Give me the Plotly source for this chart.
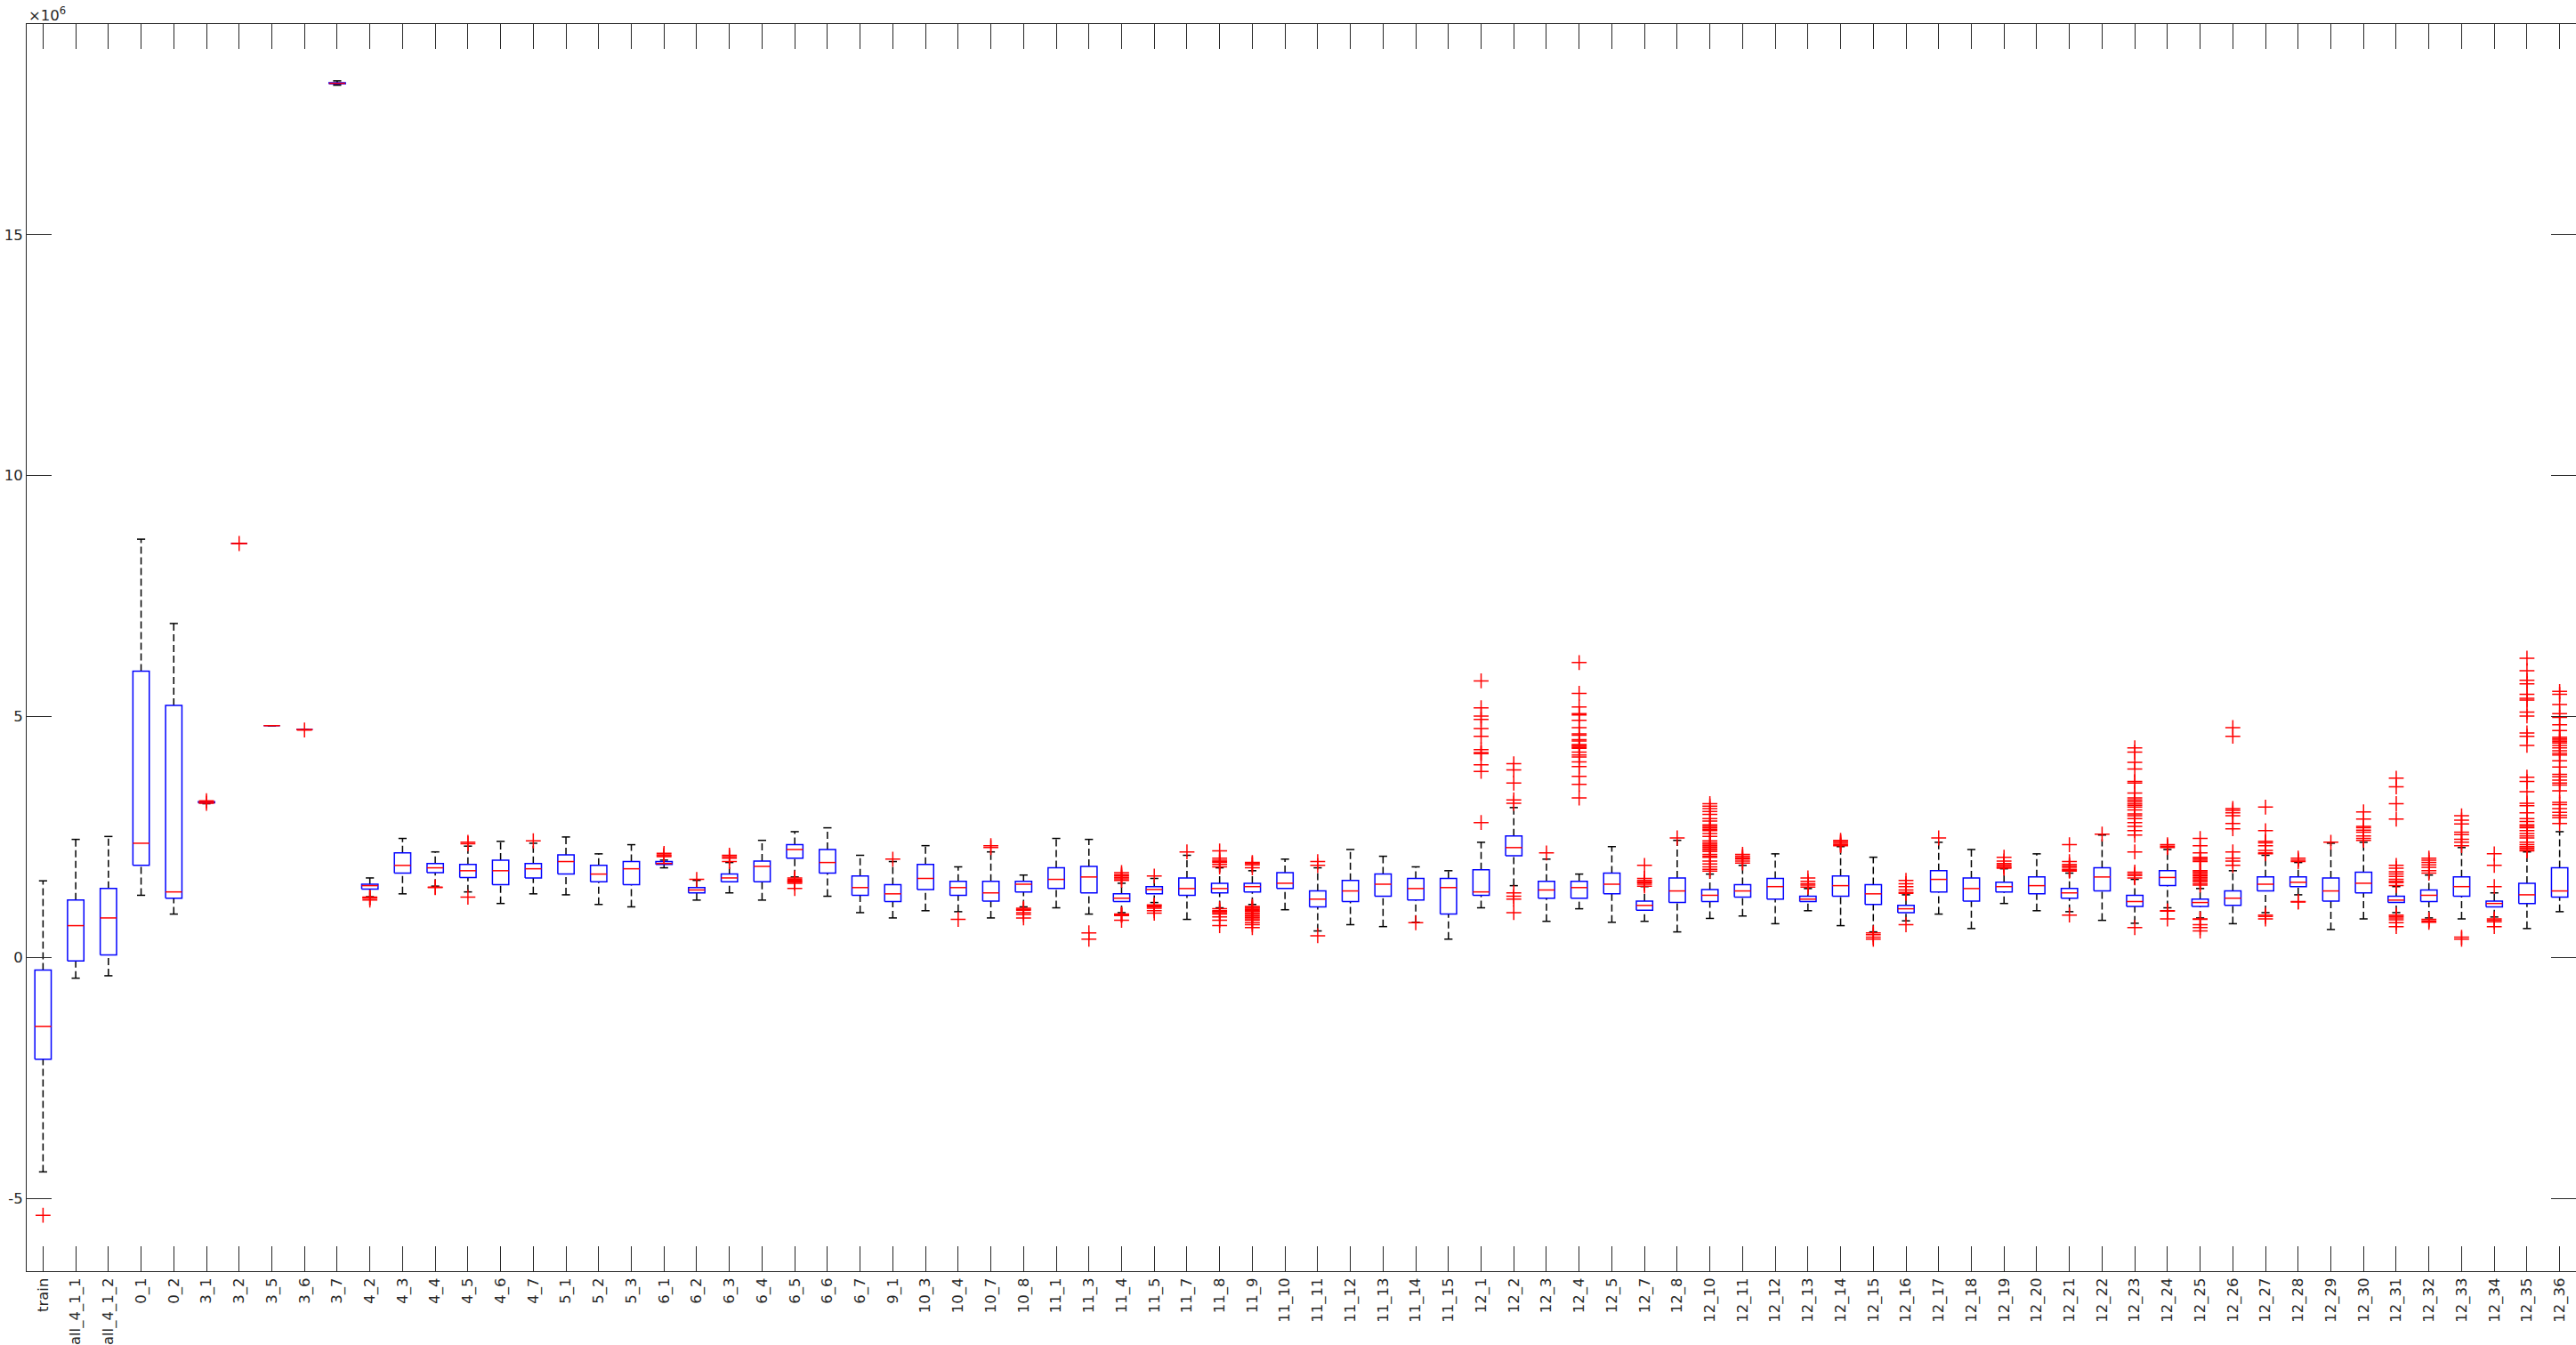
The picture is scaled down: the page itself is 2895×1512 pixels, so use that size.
import plotly.graph_objects as go

# values, in units of 1e6
labels = ["train", "all_4_1_1", "all_4_1_2", "0_1", "0_2", "3_1", "3_2", "3_5", "3_6", "3_7",
          "4_2", "4_3", "4_4", "4_5", "4_6", "4_7", "5_1", "5_2", "5_3",
          "6_1", "6_2", "6_3", "6_4", "6_5", "6_6", "6_7", "9_1",
          "10_3", "10_4", "10_7", "10_8",
          "11_1", "11_3", "11_4", "11_5", "11_7", "11_8", "11_9", "11_10", "11_11",
          "11_12", "11_13", "11_14", "11_15",
          "12_1", "12_2", "12_3", "12_4", "12_5", "12_7", "12_8", "12_10", "12_11",
          "12_12", "12_13", "12_14", "12_15", "12_16", "12_17", "12_18", "12_19",
          "12_20", "12_21", "12_22", "12_23", "12_24", "12_25", "12_26", "12_27",
          "12_28", "12_29", "12_30", "12_31", "12_32", "12_33", "12_34", "12_35", "12_36"]

whisker_lo = [-4.45, -0.43, -0.38, 1.29, 0.90, 3.19, 8.59, 4.81, 4.73, 18.10,
              1.26, 1.32, 1.48, 1.36, 1.12, 1.32, 1.30, 1.10, 1.05,
              1.86, 1.19, 1.34, 1.19, 1.67, 1.27, 0.93, 0.82,
              0.97, 0.95, 0.82, 1.05,
              1.03, 0.90, 0.93, 1.14, 0.79, 1.03, 1.10, 0.99, 0.55,
              0.68, 0.64, 0.73, 0.38,
              1.03, 1.49, 0.75, 1.01, 0.73, 0.75, 0.53, 0.81, 0.86,
              0.70, 0.97, 0.66, 0.53, 0.76, 0.90, 0.60, 1.12,
              0.97, 0.95, 0.77, 0.71, 1.03, 0.82, 0.70, 0.93,
              1.30, 0.58, 0.80, 0.93, 0.82, 0.80, 0.84, 0.60, 0.95]

q1 = [-2.11, -0.07, 0.05, 1.91, 1.23, 3.21, 8.59, 4.81, 4.73, 18.13,
      1.42, 1.75, 1.76, 1.66, 1.51, 1.65, 1.73, 1.57, 1.51,
      1.93, 1.34, 1.57, 1.57, 2.06, 1.75, 1.29, 1.16,
      1.41, 1.29, 1.17, 1.36,
      1.43, 1.34, 1.16, 1.32, 1.29, 1.34, 1.36, 1.43, 1.05,
      1.16, 1.27, 1.19, 0.90,
      1.29, 2.11, 1.23, 1.23, 1.32, 0.98, 1.14, 1.16, 1.25,
      1.21, 1.16, 1.27, 1.10, 0.93, 1.36, 1.17, 1.36,
      1.32, 1.23, 1.38, 1.06, 1.49, 1.06, 1.08, 1.38,
      1.47, 1.17, 1.34, 1.14, 1.16, 1.27, 1.05, 1.12, 1.25]

median = [-1.43, 0.66, 0.82, 2.37, 1.36, 3.22, 8.59, 4.81, 4.73, 18.14,
          1.49, 1.91, 1.86, 1.80, 1.80, 1.84, 1.99, 1.73, 1.84,
          1.95, 1.40, 1.65, 1.89, 2.24, 1.97, 1.45, 1.32,
          1.64, 1.45, 1.34, 1.52,
          1.62, 1.67, 1.23, 1.41, 1.43, 1.43, 1.47, 1.54, 1.21,
          1.38, 1.52, 1.43, 1.45,
          1.36, 2.28, 1.40, 1.45, 1.52, 1.08, 1.38, 1.29, 1.38,
          1.47, 1.21, 1.49, 1.32, 1.01, 1.62, 1.43, 1.47,
          1.49, 1.34, 1.67, 1.16, 1.66, 1.14, 1.23, 1.52,
          1.56, 1.38, 1.54, 1.19, 1.29, 1.47, 1.12, 1.30, 1.38]

q3 = [-0.26, 1.19, 1.43, 5.94, 5.23, 3.23, 8.59, 4.81, 4.73, 18.15,
      1.52, 2.17, 1.95, 1.93, 2.02, 1.95, 2.13, 1.91, 1.99,
      1.99, 1.45, 1.73, 2.00, 2.34, 2.24, 1.69, 1.51,
      1.93, 1.58, 1.58, 1.58,
      1.86, 1.89, 1.32, 1.47, 1.65, 1.54, 1.54, 1.76, 1.38,
      1.60, 1.73, 1.64, 1.64,
      1.82, 2.52, 1.58, 1.58, 1.75, 1.17, 1.65, 1.41, 1.51,
      1.64, 1.27, 1.69, 1.51, 1.08, 1.80, 1.65, 1.56,
      1.67, 1.43, 1.86, 1.29, 1.80, 1.21, 1.38, 1.67,
      1.67, 1.65, 1.77, 1.27, 1.40, 1.67, 1.17, 1.54, 1.86]

whisker_hi = [1.59, 2.45, 2.51, 8.68, 6.93, 3.24, 8.59, 4.81, 4.73, 18.19,
              1.65, 2.47, 2.19, 2.31, 2.41, 2.37, 2.50, 2.15, 2.34,
              2.02, 1.60, 1.97, 2.43, 2.61, 2.69, 2.12, 1.99,
              2.32, 1.88, 2.19, 1.71,
              2.47, 2.45, 1.54, 1.64, 2.12, 1.86, 1.80, 2.04, 1.86,
              2.24, 2.10, 1.88, 1.80,
              2.39, 3.11, 2.04, 1.73, 2.30, 1.47, 2.43, 1.73, 1.91,
              2.15, 1.43, 2.30, 2.08, 1.30, 2.39, 2.24, 1.84,
              2.15, 1.75, 2.54, 1.62, 2.24, 1.43, 1.80, 2.12,
              1.97, 2.37, 2.39, 1.47, 1.71, 2.28, 1.34, 2.19, 2.61]

outliers = [
    [-5.35], [], [], [], [], [3.25, 3.20], [8.59], [], [4.72], [],
    [1.24, 1.23, 1.25, 1.19],
    [],
    [1.46, 1.45],
    [2.39, 2.36, 1.25],
    [],
    [2.42],
    [], [], [],
    [2.16, 2.13, 2.11, 2.09],
    [1.62],
    [2.12, 2.09, 2.06, 1.99],
    [],
    [1.65, 1.62, 1.60, 1.58, 1.56, 1.54, 1.43],
    [], [],
    [2.04],
    [],
    [0.79],
    [2.32, 2.28],
    [1.02, 1.00, 0.98, 0.93, 0.89, 0.82],
    [],
    [0.51, 0.38],
    [1.76, 1.72, 1.69, 1.66, 1.63, 1.60, 0.90, 0.89, 0.88, 0.87, 0.77],
    [1.69, 1.09, 1.07, 1.05, 1.02, 0.97, 0.92],
    [2.19],
    [2.21, 2.06, 2.02, 1.99, 1.97, 1.93, 1.88, 1.01, 0.97, 0.95, 0.93, 0.90, 0.84, 0.77, 0.66],
    [1.97, 1.95, 1.92, 1.86, 1.06, 1.04, 1.02, 1.00, 0.97, 0.95, 0.92, 0.89, 0.86,
     0.83, 0.80, 0.77, 0.72, 0.68, 0.62],
    [],
    [1.99, 1.91, 0.45],
    [], [],
    [0.72],
    [],
    [2.80, 3.86, 4.00, 4.23, 4.25, 4.31, 4.59, 4.75, 4.94, 5.01, 5.18, 5.74],
    [3.20, 3.27, 3.62, 3.89, 4.02, 1.34, 1.27, 1.21, 0.93],
    [2.17],
    [3.31, 3.59, 3.76, 3.96, 4.06, 4.16, 4.20, 4.26, 4.34, 4.36, 4.38, 4.40, 4.42,
     4.49, 4.52, 4.61, 4.64, 4.77, 4.92, 5.03, 5.06, 5.20, 5.48, 6.12],
    [],
    [1.91, 1.64, 1.60, 1.57, 1.55, 1.52, 1.48],
    [2.48],
    [3.19, 3.14, 3.09, 3.03, 2.97, 2.88, 2.83, 2.75, 2.72, 2.69, 2.66, 2.63, 2.57,
     2.51, 2.42, 2.38, 2.35, 2.32, 2.29, 2.26, 2.23, 2.20, 2.14, 2.10, 2.08, 2.00,
     1.94, 1.88, 1.83, 1.79],
    [2.14, 2.10, 2.07, 2.04, 2.00, 1.96],
    [],
    [1.65, 1.58, 1.53, 1.50, 1.46],
    [2.43, 2.40, 2.37, 2.34, 2.32],
    [0.51, 0.47, 0.42, 0.38],
    [1.60, 1.53, 1.47, 1.40, 1.35, 1.33, 0.68],
    [2.48],
    [],
    [2.08, 2.00, 1.95, 1.92, 1.89, 1.87, 1.85],
    [],
    [2.34, 1.99, 1.93, 1.90, 1.87, 1.83, 1.81, 1.79, 0.88],
    [2.56],
    [0.62, 1.65, 1.70, 1.73, 1.77, 2.19, 2.54, 2.63, 2.72, 2.80, 2.88, 2.94, 2.98,
     3.06, 3.12, 3.16, 3.19, 3.23, 3.27, 3.31, 3.41, 3.62, 3.65, 3.91, 4.05, 4.26, 4.35],
    [2.34, 2.31, 2.28, 0.97, 0.96, 0.80],
    [2.47, 2.32, 2.17, 2.08, 2.05, 2.02, 1.99, 1.80, 1.78, 1.75, 1.72, 1.69, 1.66,
     1.63, 1.60, 1.57, 1.53, 1.50, 0.80, 0.79, 0.68, 0.62, 0.55],
    [4.77, 4.59, 3.09, 3.05, 3.00, 2.94, 2.78, 2.67, 2.19, 2.06, 2.00, 1.91],
    [3.12, 2.63, 2.41, 2.38, 2.32, 2.22, 2.17, 2.15, 0.88, 0.85, 0.80],
    [2.06, 2.02, 1.99, 1.16, 1.15],
    [2.39],
    [3.02, 2.87, 2.72, 2.69, 2.64, 2.60, 2.52, 2.47, 2.43],
    [3.72, 3.54, 3.19, 2.87, 1.91, 1.85, 1.78, 1.73, 1.68, 1.62, 1.58, 1.55, 1.49,
     0.88, 0.85, 0.82, 0.78, 0.72, 0.64],
    [2.06, 2.02, 1.97, 1.92, 1.87, 1.80, 1.75, 0.79, 0.76, 0.73],
    [2.94, 2.85, 2.77, 2.60, 2.55, 2.45, 2.39, 2.32, 0.42, 0.38],
    [2.15, 1.91, 1.47, 0.80, 0.77, 0.74, 0.64],
    [6.21, 5.95, 5.75, 5.68, 5.46, 5.38, 5.34, 5.09, 5.01, 4.66, 4.59, 4.40, 3.74,
     3.65, 3.44, 3.20, 3.15, 3.00, 2.88, 2.82, 2.75, 2.72, 2.69, 2.63, 2.57, 2.52,
     2.48, 2.39, 2.34, 2.30, 2.27, 2.24, 2.21],
    [5.52, 5.46, 5.25, 5.06, 4.98, 4.83, 4.71, 4.57, 4.54, 4.51, 4.48, 4.45, 4.40,
     4.35, 4.29, 4.24, 4.20, 4.08, 3.95, 3.80, 3.75, 3.68, 3.62, 3.58, 3.46, 3.22,
     3.17, 3.09, 3.01, 2.95, 2.90, 2.78],
]

y_ticks = [-5, 0, 5, 10, 15]
scale = 1e6

AXIS_COLOR = "#262626"
FONT = dict(family="DejaVu Sans", size=16.5, color=AXIS_COLOR)
half_box = 0.25
half_cap = 0.125

pos = list(range(1, len(labels) + 1))


def add_segments(xs, ys, pts):
    for p in pts:
        xs.extend(p[0])
        ys.extend(p[1])
        xs.append(None)
        ys.append(None)


wx, wy, cx, cy, bx, by, mx, my = [], [], [], [], [], [], [], []
ox, oy = [], []
for i, p in enumerate(pos):
    lo, a, m, b, hi = (v * scale for v in (whisker_lo[i], q1[i], median[i], q3[i], whisker_hi[i]))
    add_segments(wx, wy, [([p, p], [b, hi]), ([p, p], [lo, a])])
    add_segments(cx, cy, [([p - half_cap, p + half_cap], [hi, hi]),
                          ([p - half_cap, p + half_cap], [lo, lo])])
    add_segments(bx, by, [([p - half_box, p + half_box, p + half_box, p - half_box, p - half_box],
                           [a, a, b, b, a])])
    add_segments(mx, my, [([p - half_box, p + half_box], [m, m])])
    for v in outliers[i]:
        ox.append(p)
        oy.append(v * scale)

fig = go.Figure()
fig.add_trace(go.Scatter(x=wx, y=wy, mode="lines", hoverinfo="skip",
                         line=dict(color="black", width=1.5, dash="8px,4px")))
fig.add_trace(go.Scatter(x=cx, y=cy, mode="lines", hoverinfo="skip",
                         line=dict(color="black", width=1.5)))
fig.add_trace(go.Scatter(x=bx, y=by, mode="lines", hoverinfo="skip",
                         line=dict(color="#0000ff", width=1.5)))
fig.add_trace(go.Scatter(x=mx, y=my, mode="lines", hoverinfo="skip",
                         line=dict(color="#ff0000", width=1.5)))
fig.add_trace(go.Scatter(x=ox, y=oy, mode="markers",
                         marker=dict(symbol="cross-thin", size=12,
                                     line=dict(color="#ff0000", width=1.5))))

fig.update_xaxes(
    range=[0.5, len(labels) + 0.5], automargin=False,
    tickmode="array", tickvals=pos, ticktext=labels, tickangle=-90,
    ticks="inside", ticklen=28, tickwidth=1, tickcolor=AXIS_COLOR,
    showline=True, linecolor=AXIS_COLOR, linewidth=1, mirror="ticks",
    showgrid=False, zeroline=False, tickfont=FONT,
)
fig.update_yaxes(
    range=[-6.51 * scale, 19.37 * scale], automargin=False,
    tickmode="array", tickvals=[t * scale for t in y_ticks],
    ticktext=[str(t) for t in y_ticks],
    ticks="inside", ticklen=28, tickwidth=1, tickcolor=AXIS_COLOR,
    showline=True, linecolor=AXIS_COLOR, linewidth=1, mirror="ticks",
    showgrid=False, zeroline=False, tickfont=FONT,
)
fig.add_annotation(
    text="×10<sup>6</sup>", xref="paper", yref="paper", x=0, y=1,
    xanchor="left", yanchor="bottom", showarrow=False, yshift=-2,
    font=FONT,
)
fig.update_layout(
    width=2895, height=1512,
    margin=dict(l=30, r=0, t=27, b=83),
    paper_bgcolor="white", plot_bgcolor="white",
    showlegend=False,
)

# drop the browser's default body margin so the figure fills the window
fig.write_html("out.html", config={"displayModeBar": False},
               post_script="document.body.style.margin = '0';")
